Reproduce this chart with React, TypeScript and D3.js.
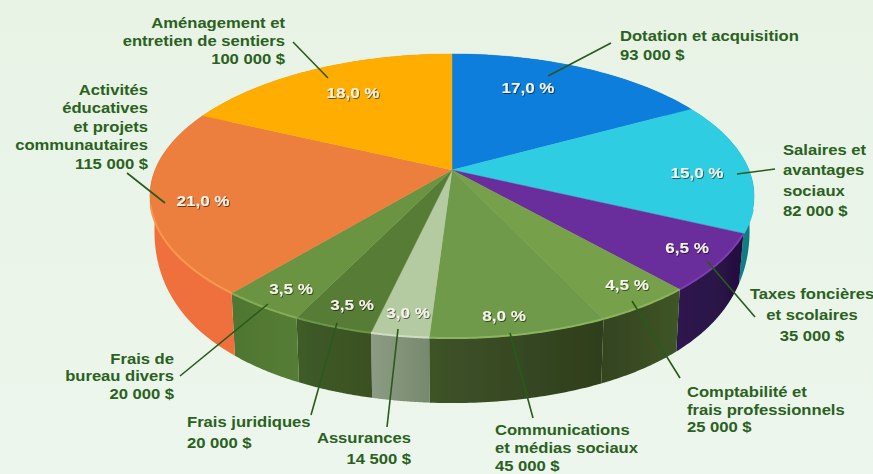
import React from "react";
import * as d3 from "d3";

// ---- data ----
const categories = [
  ["Dotation et acquisition", "93 000 $"],
  ["Salaires et", "avantages", "sociaux", "82 000 $"],
  ["Taxes foncières", "et scolaires", "35 000 $"],
  ["Comptabilité et", "frais professionnels", "25 000 $"],
  ["Communications", "et médias sociaux", "45 000 $"],
  ["Assurances", "14 500 $"],
  ["Frais juridiques", "20 000 $"],
  ["Frais de", "bureau divers", "20 000 $"],
  ["Activités", "éducatives", "et projets", "communautaires", "115 000 $"],
  ["Aménagement et", "entretien de sentiers", "100 000 $"],
];
const percentLabels = ["17,0 %", "15,0 %", "6,5 %", "4,5 %", "8,0 %", "3,0 %", "3,5 %", "3,5 %", "21,0 %", "18,0 %"];
// slice widths as measured on the picture
const sliceShares = [17, 15, 6.5, 4.5, 8, 2.6, 3.6, 3.8, 21, 18];

// ---- styles ----
const topColors = ["#0F7EDB", "#2FCDE2", "#692E9C", "#76A04A", "#6E9A48", "#B4CBA2", "#567C35", "#6B9443", "#EC7F3C", "#FFAD00"];
const rimColors = ["#0F7EDB", "#2FCDE2", "#7A3FB0", "#8CB45C", "#8DB560", "#CFDDC2", "#6E9648", "#86AC58", "#F59A50", "#FFAD00"];
const wallLeft = ["#0A5FA8", "#0FA5AE", "#2F1650", "#33441F", "#3F5328", "#8C9C84", "#3F5C26", "#4F7630", "#F0703C", "#C98500"];
const wallRight = ["#0A5FA8", "#07787E", "#26103F", "#3F5526", "#2E3E1C", "#77896D", "#3A5023", "#567D35", "#F0703C", "#C98500"];

// ---- layout ----
const W = 873, H = 474;
const cx = 452, cy = 170;
const persp = 0.183, bY = 137.3, bX = 297;
const depthFront = 65, depthFall = 45, shrink = 0.985;
const stretch = 1.1;

const labelLayout: { x: number; ys: number[]; anchor: string }[] = [
  { x: 620, ys: [41, 60], anchor: "start" },
  { x: 783, ys: [155, 175, 196, 216], anchor: "start" },
  { x: 812, ys: [299, 320, 341], anchor: "middle" },
  { x: 687, ys: [397, 414.5, 432], anchor: "start" },
  { x: 495, ys: [435, 453, 471], anchor: "start" },
  { x: 411, ys: [443, 464], anchor: "end" },
  { x: 187, ys: [427, 448], anchor: "start" },
  { x: 174, ys: [364, 381, 399], anchor: "end" },
  { x: 148, ys: [95, 113, 132, 150, 169], anchor: "end" },
  { x: 285, ys: [28, 46, 64], anchor: "end" },
];
const leaders = [
  [611, 43, 548, 76],
  [775, 169, 737, 174],
  [755, 317, 707, 261],
  [680, 378, 632, 301],
  [533, 418, 510, 333],
  [387, 427, 398, 329],
  [311, 415, 337, 323],
  [180, 376, 268, 304],
  [127, 173, 165, 203],
  [293, 42, 328, 78],
];
const percentPos = [
  [528, 87], [697, 172], [687, 247], [627, 284], [504, 315],
  [408, 312], [352, 304], [291, 288], [203, 200], [353, 92],
];

const project = (a: number): [number, number] => {
  const x = Math.sin(a), y = -Math.cos(a);
  const w = 1 - persp * y;
  return [cx + (bX * x) / w, cy + (bY * y) / w];
};
const lower = (a: number): [number, number] => {
  const p = project(a);
  const y = Math.max(0, -Math.cos(a));
  return [cx + (p[0] - cx) * shrink, p[1] + depthFront - depthFall * (1 - y) * (1 - y)];
};
const samples = (a0: number, a1: number) => d3.range(0, 41).map((i) => a0 + ((a1 - a0) * i) / 40);
const line = d3.line<[number, number]>();

const arcs = d3.pie<number>().sort(null).value((d) => d)(sliceShares);
const textColor = "#2A6120";
const font = "'Liberation Sans', Arial, sans-serif";

export default function App() {
  return (
    <svg width={W} height={H} viewBox={`0 0 ${W} ${H}`} style={{ position: "fixed", left: 0, top: 0, display: "block" }}>
      <defs>
        <linearGradient id="bg" x1="0" y1="0" x2="0" y2="1">
          <stop offset="0" stopColor="#E8F3E6" />
          <stop offset="1" stopColor="#ECF6EC" />
        </linearGradient>
        {arcs.map((_, i) => (
          <linearGradient key={i} id={`wall${i}`} x1="0" y1="0" x2="1" y2="0">
            <stop offset="0" stopColor={wallLeft[i]} />
            <stop offset="1" stopColor={wallRight[i]} />
          </linearGradient>
        ))}
        <filter id="soft" x="-5%" y="-5%" width="110%" height="110%">
          <feGaussianBlur stdDeviation="0.4" />
        </filter>
        <filter id="shadow" x="-20%" y="-30%" width="150%" height="170%">
          <feDropShadow dx="0.8" dy="1" stdDeviation="0.7" floodColor="#000" floodOpacity="0.55" />
        </filter>
      </defs>
      <rect width={W} height={H} fill="url(#bg)" />

      <g filter="url(#soft)">
        {arcs.map((d, i) => {
          const as = samples(d.startAngle, d.endAngle);
          const top = as.map(project);
          const bottom = as.map(lower).reverse();
          return <path key={i} d={line([...top, ...bottom]) + "Z"} fill={`url(#wall${i})`} />;
        })}
        {arcs.map((d, i) => {
          const top = samples(d.startAngle, d.endAngle).map(project);
          return <path key={i} d={line([[cx, cy], ...top]) + "Z"} fill={topColors[i]} stroke={topColors[i]} strokeWidth={0.4} />;
        })}
        {arcs.map((d, i) => {
          const as = samples(d.startAngle, d.endAngle).filter((a) => -Math.cos(a) > 0.25);
          if (as.length < 2) return null;
          return <path key={i} d={line(as.map(project))!} fill="none" stroke={rimColors[i]} strokeWidth={2} />;
        })}
      </g>

      {leaders.map((l, i) => (
        <line key={i} x1={l[0]} y1={l[1]} x2={l[2]} y2={l[3]} stroke="#2A5A1B" strokeWidth={1.6} />
      ))}

      {percentLabels.map((t, i) => (
        <text key={i} transform={`translate(${percentPos[i][0]},${percentPos[i][1] + 5.5}) scale(${stretch},1)`} textAnchor="middle" fontFamily={font} fontWeight={700} fontSize={15.5} fill="#F6F3EA" filter="url(#shadow)">
          {t}
        </text>
      ))}

      {categories.map((lines, i) =>
        lines.map((s, j) => (
          <text
            key={`${i}-${j}`}
            transform={`translate(${labelLayout[i].x},${labelLayout[i].ys[j]}) scale(${stretch},1)`}
            fontFamily={font}
            fontWeight={700}
            fontSize={15.1}
            fill={textColor}
            textAnchor={labelLayout[i].anchor}
          >
            {s}
          </text>
        ))
      )}
    </svg>
  );
}
